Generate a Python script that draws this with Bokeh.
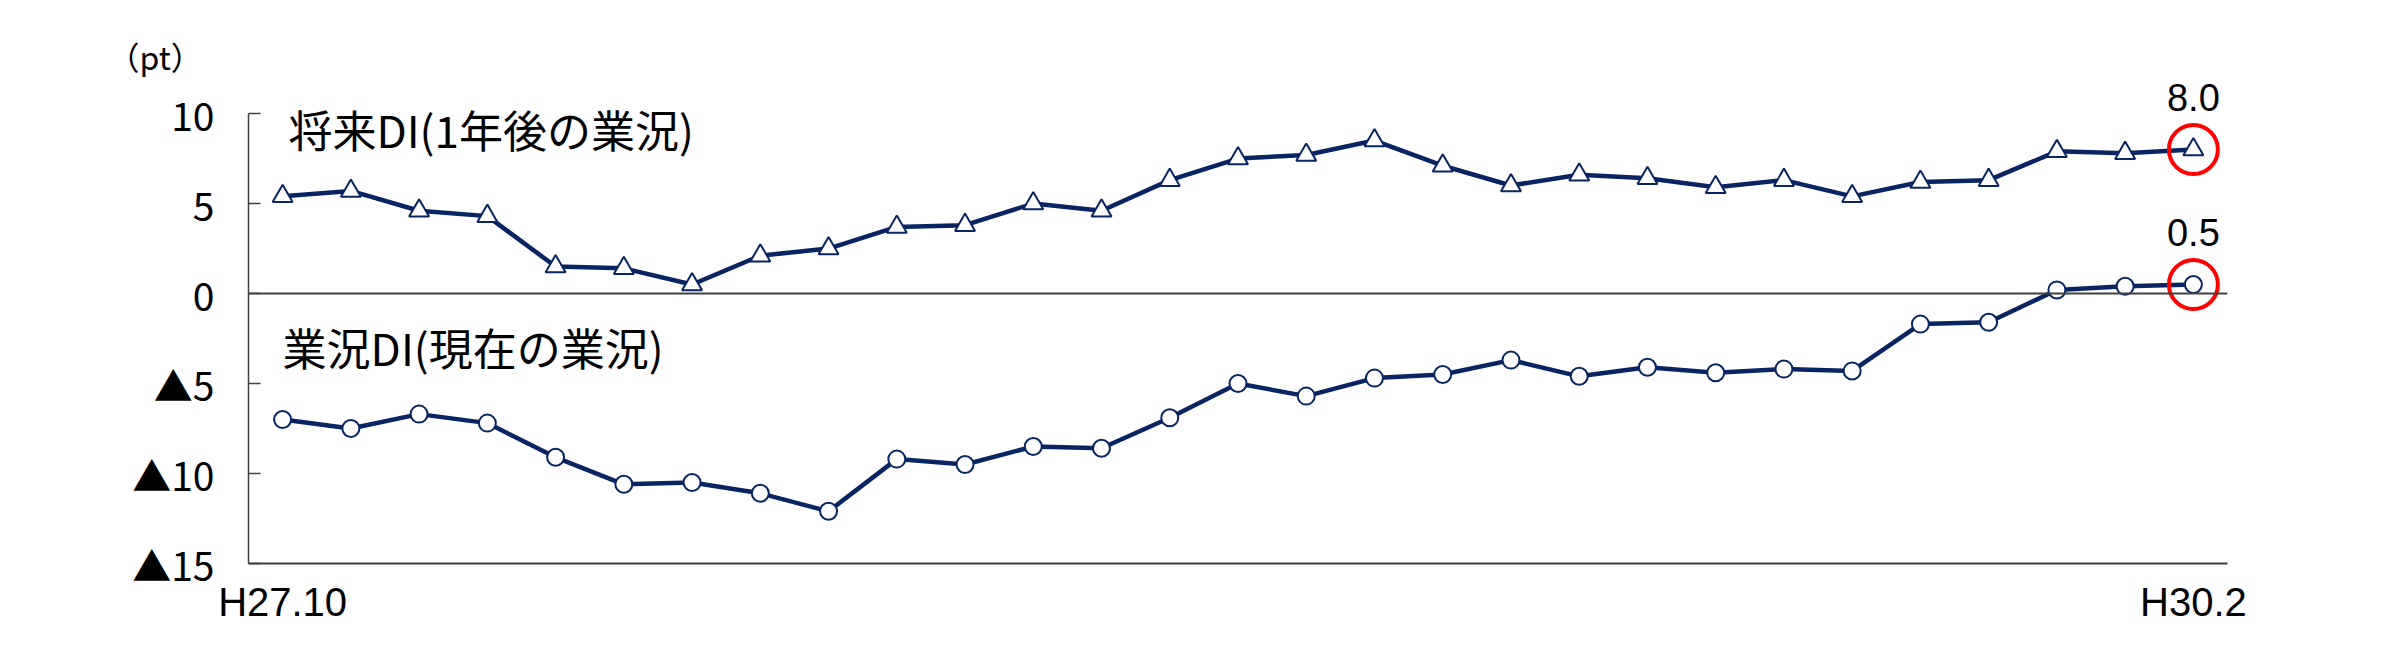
from bokeh.plotting import figure
from bokeh.models import Range1d, FixedTicker, Span, Label, Title
from bokeh.core.properties import value
from bokeh.embed import file_html
from bokeh.resources import INLINE

# ---- data ----
months = list(range(29))  # H27.10 ... H30.2 (monthly)
future_di = [5.4, 5.7, 4.6, 4.3, 1.5, 1.4, 0.5, 2.1, 2.5, 3.7, 3.8, 5.0, 4.6, 6.3,
             7.5, 7.7, 8.5, 7.1, 6.0, 6.6, 6.4, 5.9, 6.3, 5.4, 6.2, 6.3, 7.9, 7.8, 8.0]
current_di = [-7.0, -7.5, -6.7, -7.2, -9.1, -10.6, -10.5, -11.1, -12.1, -9.2, -9.5, -8.5,
              -8.6, -6.9, -5.0, -5.7, -4.7, -4.5, -3.7, -4.6, -4.1, -4.4, -4.2, -4.3,
              -1.7, -1.6, 0.2, 0.4, 0.5]
y_ticks = [10, 5, 0, -5, -10, -15]
y_tick_labels = ["10", "5", "0", "▲5", "▲10", "▲15"]
x_tick_pos = [0, 28]
x_labels = ["H27.10", "H30.2"]
series_names = ["将来DI(1年後の業況)", "業況DI(現在の業況)"]
unit_label = "（pt）"

NUM_FONT = "Liberation Sans"
JP_FONT = "Noto Sans CJK JP"
NAVY = "#082463"
GRAY = "#404040"

p = figure(width=2376, height=634, output_backend="svg", toolbar_location=None,
           x_range=Range1d(-0.5, 28.5), y_range=Range1d(-15, 11.78),
           min_border_left=248, min_border_right=149, min_border_top=81,
           min_border_bottom=71)
p.outline_line_color = None
p.xgrid.visible = False
p.ygrid.visible = False
p.background_fill_color = "white"
p.border_fill_color = "white"

# unit label above the axis
p.add_layout(Title(text=unit_label, align="left", offset=-141, standoff=6,
                   text_font=JP_FONT, text_font_size="32px",
                   text_font_style="normal", text_color="black"), "above")

# y axis
yax = p.yaxis[0]
yax.bounds = (-15, 10)
yax.ticker = FixedTicker(ticks=y_ticks)
yax.major_label_overrides = {t: l for t, l in zip(y_ticks, y_tick_labels)}
yax.major_tick_in = 12
yax.major_tick_out = 0
yax.minor_tick_in = 0
yax.minor_tick_out = 0
yax.axis_line_color = GRAY
yax.axis_line_width = 1.5
yax.major_tick_line_color = GRAY
yax.major_tick_line_width = 1.5
yax.major_label_standoff = 34
yax.major_label_text_font = JP_FONT
yax.major_label_text_font_size = "39px"
yax.major_label_text_color = "black"

# x axis
xax = p.xaxis[0]
xax.ticker = FixedTicker(ticks=x_tick_pos)
xax.major_label_overrides = {t: l for t, l in zip(x_tick_pos, x_labels)}
xax.axis_line_color = GRAY
xax.axis_line_width = 2
xax.major_tick_in = 0
xax.major_tick_out = 0
xax.minor_tick_line_color = None
xax.major_label_standoff = 16
xax.major_label_text_font = NUM_FONT
xax.major_label_text_font_size = "40px"
xax.major_label_text_color = "black"

# zero line
p.add_layout(Span(location=0, dimension="width", line_color=GRAY, line_width=2))

# series
p.line(months, future_di, line_color=NAVY, line_width=4.5)
p.scatter(months, future_di, marker="triangle", size=20, fill_color="white",
          line_color=NAVY, line_width=2)
p.line(months, current_di, line_color=NAVY, line_width=4.5)
p.scatter(months, current_di, marker="circle", size=17, fill_color="white",
          line_color=NAVY, line_width=2)

# highlight last values
last_x = [months[-1], months[-1]]
last_y = [future_di[-1], current_di[-1]]
p.scatter(last_x, last_y, marker="circle", size=49, fill_color=None,
          line_color="#ff0000", line_width=4)
p.text(last_x, last_y, text=[f"{v:.1f}" for v in last_y], text_align="center",
       text_baseline="middle", y_offset=-52, text_font=value(NUM_FONT),
       text_font_size="38px", text_color="black")

# series labels
p.add_layout(Label(x=0.085, y=9.12, text=series_names[0], text_align="left",
                   text_baseline="middle", text_font=JP_FONT, text_font_size="44px",
                   text_color="black"))
p.add_layout(Label(x=0.0, y=-2.99, text=series_names[1], text_align="left",
                   text_baseline="middle", text_font=JP_FONT, text_font_size="44px",
                   text_color="black"))

open("out.html", "w").write(file_html(p, INLINE))
